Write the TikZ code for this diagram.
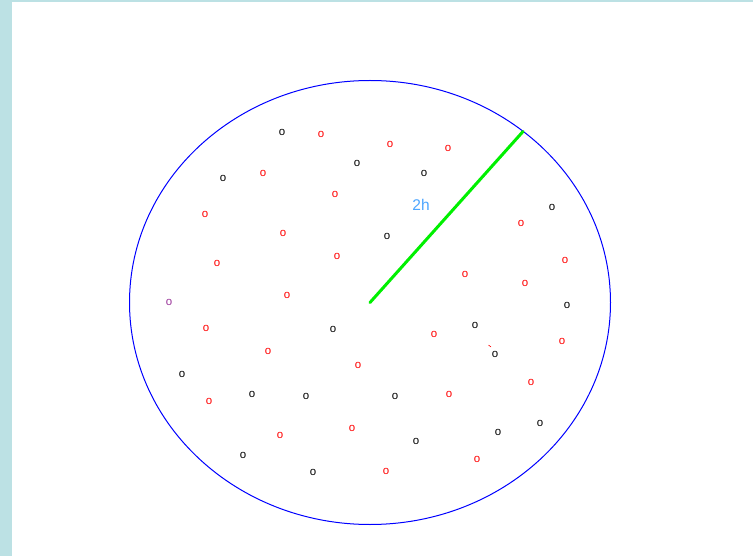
\documentclass[tikz,border=0pt]{standalone}
\usepackage{fontspec}
\setmainfont{Liberation Sans}
\usepackage{xcolor}
\definecolor{framecyan}{HTML}{BCE1E4}
\definecolor{ringblue}{HTML}{0000FF}
\definecolor{radgreen}{HTML}{00F000}
\definecolor{labelblue}{HTML}{4DA6FF}
\definecolor{dotred}{HTML}{FF0000}
\definecolor{dotpurple}{HTML}{993399}

\tikzset{
  sample/.style={inner sep=0pt, yshift=-1pt, font=\fontsize{11.5}{11.5}\selectfont},
  redsample/.style={sample, text=dotred},
  blacksample/.style={sample, text=black},
}

\begin{document}
\begin{tikzpicture}[x=1pt, y=-1pt]
\fill[framecyan] (0,0) rectangle (753,556);
\fill[white] (12,2.5) rectangle (753,556);
\useasboundingbox (0,0) rectangle (753,556);

\coordinate (centre) at (370,302.5);
\coordinate (rim) at (523,131.5);
\draw[ringblue, line width=1pt] (centre) ellipse [x radius=240.5pt, y radius=222pt];

% samples
\foreach \px/\py [count=\i] in {282/131, 357/162, 424/172, 223/177, 387/235,
    552/206, 567/304, 333/328, 475/324, 495/353, 182/373, 252/393, 306/395,
    395/395, 498/431, 540/422, 416/440, 243/454, 313/471}
  \node[blacksample] (b\i) at (\px,\py) {o};
\foreach \px/\py [count=\i] in {321/133, 390/143, 448/147, 263/172, 335/193,
    205/213, 521/222, 283/232, 337/255, 565/259, 217/262, 465/273, 525/282,
    287/294, 206/327, 434/333, 562/340, 268/350, 358/364, 531/381, 209/400,
    449/393, 352/427, 280/434, 477/458, 386/470}
  \node[redsample] (r\i) at (\px,\py) {o};
\node[sample, text=dotpurple] (p1) at (169,301) {o};
\draw[dotred, line width=0.6pt] (488.5,345) -- (491,347);

\draw[radgreen, line width=3pt, line cap=round] (centre) -- (rim);
\node[text=labelblue, inner sep=0pt, font=\fontsize{15.5}{15.5}\selectfont] (radlabel) at (421,205) {2h};
\end{tikzpicture}
\end{document}
